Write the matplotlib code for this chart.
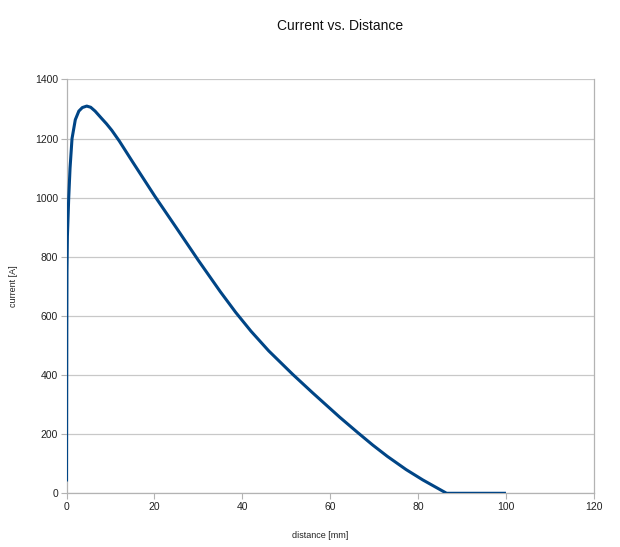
import matplotlib
matplotlib.use("Agg")
import matplotlib.pyplot as plt

distance = [0, 0.03, 0.06, 0.1, 0.2, 0.5, 0.8, 1.25, 2.0, 2.8, 3.6, 4.6, 5.5, 6.5, 8.0, 9.1,
            10.3, 12.0, 15.0, 20.1, 25.0, 30.0, 35.0, 38.5, 42.0, 46.0, 51.5, 56.0, 62.2,
            66.3, 69.7, 73.0, 77.3, 81.1, 86.5, 90.0, 95.0, 100.0]
current = [40, 300, 550, 750, 870, 1000, 1100, 1200, 1264, 1293, 1305, 1310, 1306, 1293, 1268, 1250,
           1228, 1192, 1122, 1005, 898, 788, 682, 612, 548, 482, 402, 340, 257,
           205, 163, 125, 80, 45, 0, 0, 0, 0]

title = "Current vs. Distance"
xlabel = "distance [mm]"
ylabel = "current [A]"
xticks = [0, 20, 40, 60, 80, 100, 120]
yticks = [0, 200, 400, 600, 800, 1000, 1200, 1400]

plt.rcParams['font.family'] = ['Liberation Sans', 'DejaVu Sans']

fig = plt.figure(figsize=(6.2, 5.47), dpi=100)
ax = fig.add_axes([0.1073, 0.0982, 0.8505, 0.7565])

ax.plot(distance, current, color='#004586', linewidth=2.2, solid_joinstyle='round',
        solid_capstyle='butt', zorder=3)

ax.set_xlim(0, 120)
ax.set_ylim(0, 1400)
ax.set_xticks(xticks)
ax.set_yticks(yticks)
ax.tick_params(axis='both', labelsize=7.5, colors='#b3b3b3', labelcolor='#222222',
               length=4, width=0.8, pad=2)
ax.grid(axis='y', color='#c8c8c8', linewidth=0.9)
ax.set_axisbelow(True)
for s in ['left', 'bottom', 'right']:
    ax.spines[s].set_color('#b3b3b3')
    ax.spines[s].set_linewidth(0.9)
ax.spines['top'].set_visible(False)

fig.text(340 / 620, 1 - 26 / 547, title, ha='center', va='center', fontsize=10, color='#111111')
fig.text(320 / 620, 1 - 536 / 547, xlabel, ha='center', va='center', fontsize=6.5, color='#222222')
fig.text(14 / 620, 1 - 286 / 547, ylabel, ha='center', va='center', rotation=90, fontsize=6.5, color='#222222')

fig.savefig('out.png', dpi=100)
